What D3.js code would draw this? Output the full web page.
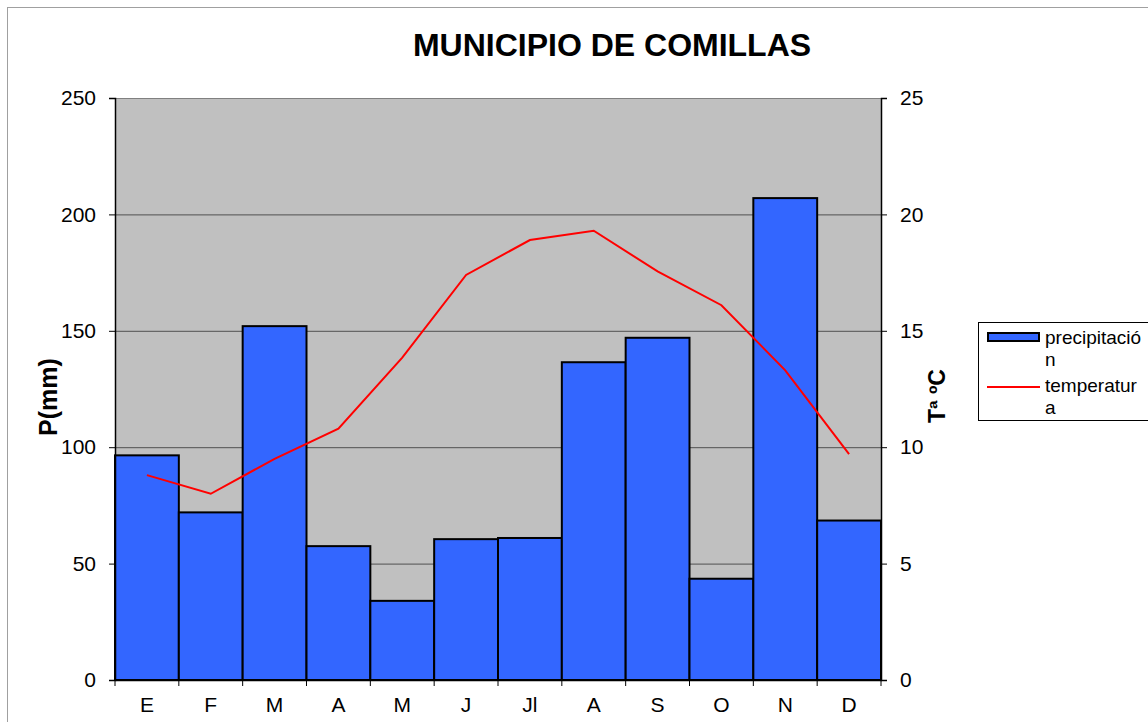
<!DOCTYPE html>
<html lang="en">
<head>
<meta charset="utf-8">
<title>Municipio de Comillas</title>
<style>
  body { margin: 0; background: #fff; }
  text { font-family: "Liberation Sans", Arial, sans-serif; }
</style>
</head>
<body>
<script src="https://d3js.org/d3.v7.min.js"></script>
<script>
// data
var months = ["E", "F", "M", "A", "M", "J", "Jl", "A", "S", "O", "N", "D"];
var precip = [96.5, 72, 152, 57.5, 34, 60.5, 61, 136.5, 147, 43.5, 207, 68.5];
var temp = [8.8, 8.0, 9.5, 10.8, 13.85, 17.4, 18.9, 19.3, 17.55, 16.1, 13.3, 9.7];
var leftTicks = [0, 50, 100, 150, 200, 250];
var rightTicks = [0, 5, 10, 15, 20, 25];

var W = 1148, H = 722;
var plot = { left: 115, right: 881, top: 98, bottom: 680 };
var FONT = "'Liberation Sans', Arial, sans-serif";

var svg = d3.select("body").append("svg")
  .attr("width", W).attr("height", H);

// outer frame
svg.append("rect")
  .attr("x", 7.5).attr("y", 7.5)
  .attr("width", W).attr("height", H)
  .attr("fill", "#fff").attr("stroke", "#a0a0a0").attr("stroke-width", 1);

var x = d3.scaleBand()
  .domain(d3.range(months.length))
  .range([plot.left, plot.right])
  .paddingInner(0).paddingOuter(0);
var yP = d3.scaleLinear().domain([0, 250]).range([plot.bottom, plot.top]);
var yT = d3.scaleLinear().domain([0, 25]).range([plot.bottom, plot.top]);

// plot background
svg.append("rect")
  .attr("x", plot.left).attr("y", plot.top)
  .attr("width", plot.right - plot.left).attr("height", plot.bottom - plot.top)
  .attr("fill", "#c0c0c0");

// gridlines
svg.selectAll("line.grid")
  .data(leftTicks.slice(1))
  .enter().append("line")
  .attr("class", "grid")
  .attr("x1", plot.left).attr("x2", plot.right)
  .attr("y1", function(d) { return yP(d) + 0.5; })
  .attr("y2", function(d) { return yP(d) + 0.5; })
  .attr("stroke", function(d) { return d == 250 ? "#808080" : "#505050"; })
  .attr("stroke-width", 1);

// bars
svg.selectAll("rect.bar")
  .data(precip)
  .enter().append("rect")
  .attr("class", "bar")
  .attr("x", function(d, i) { return x(i); })
  .attr("y", function(d) { return yP(d); })
  .attr("width", x.bandwidth())
  .attr("height", function(d) { return plot.bottom - yP(d); })
  .attr("fill", "#3366ff")
  .attr("stroke", "#000")
  .attr("stroke-width", 2);

// temperature line
var line = d3.line()
  .x(function(d, i) { return x(i) + x.bandwidth() / 2; })
  .y(function(d) { return yT(d); });
svg.append("path")
  .datum(temp)
  .attr("d", line)
  .attr("fill", "none")
  .attr("stroke", "#ff0000")
  .attr("stroke-width", 2);

// left axis
var leftAxis = svg.append("g")
  .attr("transform", "translate(" + plot.left + ",0)")
  .call(d3.axisLeft(yP).tickValues(leftTicks).tickSize(6).tickPadding(13));

// right axis
var rightAxis = svg.append("g")
  .attr("transform", "translate(" + plot.right + ",0)")
  .call(d3.axisRight(yT).tickValues(rightTicks).tickSize(6).tickPadding(13));

// bottom axis
var bottomAxis = svg.append("g")
  .attr("transform", "translate(0," + plot.bottom + ")")
  .call(d3.axisBottom(x).tickFormat(function(i) { return months[i]; }).tickSize(0).tickPadding(17));
bottomAxis.selectAll(".tick").append("line")
  .attr("x1", -x.bandwidth() / 2).attr("x2", -x.bandwidth() / 2)
  .attr("y1", 0).attr("y2", 6).attr("stroke", "#000");
bottomAxis.append("line")
  .attr("x1", plot.right).attr("x2", plot.right)
  .attr("y1", 0).attr("y2", 6).attr("stroke", "#000");

[leftAxis, rightAxis, bottomAxis].forEach(function(g) {
  g.attr("font-size", 21).attr("font-family", FONT);
  g.selectAll("text").attr("fill", "#000");
  g.select(".domain").attr("stroke", "#000").attr("stroke-width", 1.5);
});

// title
svg.append("text")
  .attr("x", 612).attr("y", 56)
  .attr("text-anchor", "middle")
  .attr("font-size", 32).attr("font-weight", "bold")
  .text("MUNICIPIO DE COMILLAS");

// axis titles
svg.append("text")
  .attr("transform", "translate(57,397) rotate(-90)")
  .attr("text-anchor", "middle")
  .attr("font-size", 25).attr("font-weight", "bold")
  .text("P(mm)");
svg.append("text")
  .attr("transform", "translate(945,396) rotate(-90)")
  .attr("text-anchor", "middle")
  .attr("font-size", 23).attr("font-weight", "bold")
  .text("Tª ºC");

// legend
var lg = svg.append("g").attr("transform", "translate(978,322)");
lg.append("rect")
  .attr("x", 0.5).attr("y", 0.5)
  .attr("width", 200).attr("height", 98)
  .attr("fill", "#fff").attr("stroke", "#000").attr("stroke-width", 1);
lg.append("rect")
  .attr("x", 10).attr("y", 11)
  .attr("width", 51).attr("height", 8)
  .attr("fill", "#3366ff").attr("stroke", "#000").attr("stroke-width", 2);
lg.append("line")
  .attr("x1", 9).attr("x2", 62)
  .attr("y1", 65).attr("y2", 65)
  .attr("stroke", "#ff0000").attr("stroke-width", 2);
var legendText = [["precipitació", "n"], ["temperatur", "a"]];
var legendY = [[22, 44], [70, 92]];
legendText.forEach(function(t, k) {
  var tx = lg.append("text").attr("font-size", 19);
  tx.append("tspan").attr("x", 67).attr("y", legendY[k][0]).text(t[0]);
  tx.append("tspan").attr("x", 67).attr("y", legendY[k][1]).text(t[1]);
});
</script>
</body>
</html>
